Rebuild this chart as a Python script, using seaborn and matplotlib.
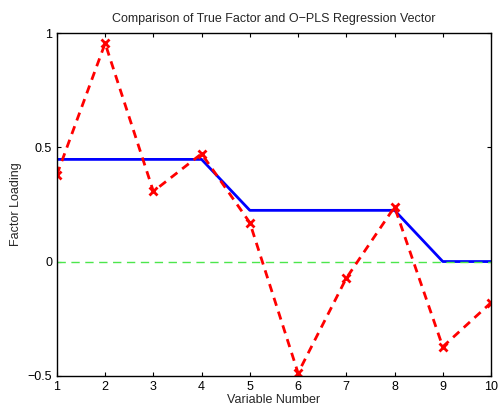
import numpy as np
import pandas as pd
import seaborn as sns
import matplotlib
matplotlib.use("Agg")
import matplotlib.pyplot as plt

# data
variables = [1, 2, 3, 4, 5, 6, 7, 8, 9, 10]
true_factor = [0.447, 0.447, 0.447, 0.447, 0.224, 0.224, 0.224, 0.224, 0.0, 0.0]
opls_vector = [0.38, 0.955, 0.307, 0.472, 0.17, -0.488, -0.073, 0.239, -0.373, -0.18]

sns.set_style("ticks")
plt.rcParams['font.family'] = ['Liberation Sans', 'DejaVu Sans']
plt.rcParams['font.size'] = 9
plt.rcParams['xtick.direction'] = 'in'
plt.rcParams['ytick.direction'] = 'in'

df = pd.DataFrame({"var": variables, "true": true_factor, "opls": opls_vector})

fig = plt.figure(figsize=(4.99, 4.08), dpi=100)
ax = fig.add_axes([0.114, 0.079, 0.870, 0.840])

sns.lineplot(data=df, x="var", y="true", ax=ax, color='#0000ff', linewidth=2)
ax.axhline(0, color='#4ce64c', linestyle=(0, (6, 4)), linewidth=1)
sns.lineplot(data=df, x="var", y="opls", ax=ax, color='#ff0000', linewidth=2,
             linestyle=(0, (3, 2.2)), marker='x', markersize=5.5, markeredgewidth=2,
             markeredgecolor='#ff0000')

ax.set_xlim(1, 10)
ax.set_ylim(-0.5, 1)
ax.set_xticks(variables)
ax.set_yticks([-0.5, 0, 0.5, 1])
ax.set_yticklabels(['\u22120.5', '0', '0.5', '1'])
ax.tick_params(top=True, right=True, length=3, width=0.8, labelsize=9, colors='black')
for s in ax.spines.values():
    s.set_visible(True)
    s.set_linewidth(1)
    s.set_color('black')

ax.set_title("Comparison of True Factor and O\u2212PLS Regression Vector", fontsize=9, pad=8)
ax.set_xlabel("Variable Number", fontsize=9, labelpad=1)
ax.set_ylabel("Factor Loading", fontsize=9, labelpad=4)

fig.savefig("out.png", dpi=100)
